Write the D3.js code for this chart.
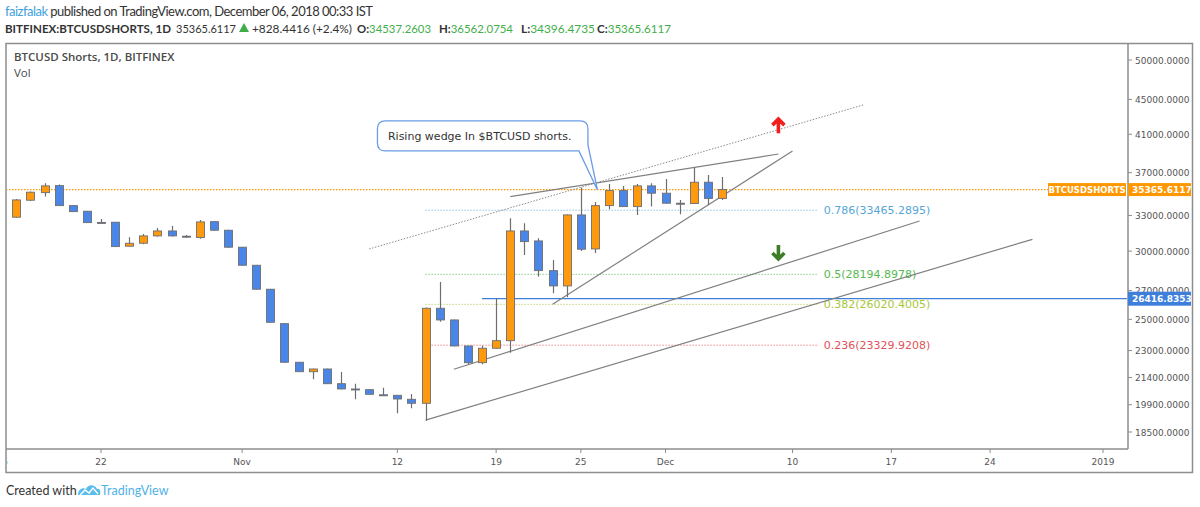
<!DOCTYPE html>
<html>
<head>
<meta charset="utf-8">
<script src="https://cdn.jsdelivr.net/npm/d3@7"></script>
<style>
body{margin:0;background:#fff;}
svg{display:block;}
</style>
</head>
<body>
<svg id="chart" width="1200" height="507"></svg>
<script>
// daily candles
const dates = ["2018-10-16","2018-10-17","2018-10-18","2018-10-19","2018-10-20","2018-10-21","2018-10-22","2018-10-23","2018-10-24","2018-10-25",
  "2018-10-26","2018-10-27","2018-10-28","2018-10-29","2018-10-30","2018-10-31","2018-11-01","2018-11-02","2018-11-03","2018-11-04",
  "2018-11-05","2018-11-06","2018-11-07","2018-11-08","2018-11-09","2018-11-10","2018-11-11","2018-11-12","2018-11-13","2018-11-14",
  "2018-11-15","2018-11-16","2018-11-17","2018-11-18","2018-11-19","2018-11-20","2018-11-21","2018-11-22","2018-11-23","2018-11-24",
  "2018-11-25","2018-11-26","2018-11-27","2018-11-28","2018-11-29","2018-11-30","2018-12-01","2018-12-02","2018-12-03","2018-12-04","2018-12-05"];
const opens = [32847,34373,35078,35744,33881,33377,32394,32410,30395,30639,31245,31663,31220,31111,32462,31723,30316,28889,27095,24714,
  22291,21736,21893,21049,20755,20715,20435,20407,20190,19975,25751,24960,23282,22266,23140,23615,31663,30830,28476,27335,
  33048,30177,33881,35268,33790,35715,35022,34099,34072,36066,34537.2603];
const highs = [34494,35190,35973,35837,33915,33404,32694,32436,31136,31411,31920,32091,31311,32606,32498,31774,30340,28913,27117,24739,
  22308,21912,21912,21718,21049,20738,20826,20424,20478,25808,27629,24980,23301,23301,26450,32756,32323,31052,29303,33095,
  35569,34219,35904,35715,35904,35973,36388,34400,37505,36781,36562.0754];
const lows = [32785,34308,34705,33854,33314,32349,32323,30340,30364,30559,31201,31201,31111,31003,31688,30282,28860,27066,24778,22266,
  21718,21299,21033,20738,20190,20440,20397,19449,19711,19067,24845,23263,22171,22171,23115,22869,29698,28021,26807,26522,
  30017,29855,33558,33763,33048,33790,34061,33111,34034,33946,34396.4735];
const closes = [34400,35117,35715,33881,33340,32375,32349,30364,30639,31245,31663,31245,31195,32436,31723,30316,28889,27095,24806,22291,
  21736,21893,21049,20755,20738,20462,20413,20206,19975,25751,24960,23282,22266,23140,23615,31663,30771,28476,27335,33048,
  30153,33881,35268,33790,35715,35022,34099,34072,36066,34537,35365.6117];

// axes
const priceTicks = [18500,19900,21400,23000,25000,27000,30000,33000,37000,41000,45000,50000];
const timeTickDates = ["2018-10-15","2018-10-22","2018-11-01","2018-11-12","2018-11-19","2018-11-25","2018-12-01","2018-12-10","2018-12-17","2018-12-24","2019-01-01"];
const timeTickLabels = ["15","22","Nov","12","19","25","Dec","10","17","24","2019"];

// fib retracement levels
const fibLevels = ["0.786","0.5","0.382","0.236"];
const fibValues = [33465.2895,28194.8978,26020.4005,23329.9208];
const fibColors = ["#58a6d9","#55b94f","#a9c63b","#e0525a"];
const fibStart = "2018-11-14", fibEnd = "2018-12-12";

const lastPrice = 35365.6117;
const priceChange = "+828.4416 (+2.4%)";
const markedPrice = 26416.8353, markedFrom = "2018-11-18";

// drawn trend lines (date, price) pairs
const trendLines = [
  ["2018-11-20",34696,"2018-12-09",38892],
  ["2018-11-23",26025,"2018-12-10",39204],
  ["2018-11-16",21876,"2018-12-19",32513],
  ["2018-11-14",19100,"2018-12-27",30963]
];
const dottedLine = ["2018-11-10",30171,"2018-12-15",44335];
const upArrow = ["2018-12-09",41900];
const downArrow = ["2018-12-09",29930];
const callout = ["2018-11-26",35330,"Rising wedge In $BTCUSD shorts."];

const parse = d3.utcParse("%Y-%m-%d");
const svg = d3.select('#chart');
svg.append('rect').attr('width',1200).attr('height',507).attr('fill','#fff');

const plotLeft = 6, plotRight = 1128, plotTop = 43.5, plotBottom = 449, outerRight = 1192.5, outerBottom = 472.5;

const x = d3.scaleUtc().domain([parse("2018-10-22"), parse("2019-01-01")]).range([101,1103]);
const y = d3.scaleLog().domain([18500,50000]).range([432,60]);

//header
const h1 = svg.append('text').attr('x',5).attr('y',16).attr('font-family','Lato').attr('font-size',13)
  .attr('fill','#333').attr('textLength',368).attr('lengthAdjust','spacing');
h1.append('tspan').attr('fill','#3f9fe0').text('faizfalak');
h1.append('tspan').text(' published on TradingView.com, December 06, 2018 00:33 IST');

const h2 = svg.append('g').attr('font-family','Lato').attr('font-size',12).attr('fill','#333');
h2.append('text').attr('x',5).attr('y',33).attr('font-weight','bold')
  .attr('textLength',166).attr('lengthAdjust','spacingAndGlyphs').text('BITFINEX:BTCUSDSHORTS, 1D');
h2.append('text').attr('x',176).attr('y',33).attr('textLength',60).attr('lengthAdjust','spacingAndGlyphs').text(lastPrice.toFixed(4));
h2.append('path').attr('d','M239,32 L244,23 L249,32 Z').attr('fill','#3fae49');
h2.append('text').attr('x',252).attr('y',33).attr('textLength',100).attr('lengthAdjust','spacingAndGlyphs').text(priceChange);
const ohlc = [['O:',opens[50],357],['H:',highs[50],439],['L:',lows[50],521],['C:',closes[50],597]];
ohlc.forEach(function(p){
  const t = h2.append('text').attr('x',p[2]).attr('y',33).attr('textLength',74).attr('lengthAdjust','spacingAndGlyphs');
  t.append('tspan').attr('font-weight','bold').text(p[0]);
  t.append('tspan').attr('fill','#3fae49').text(p[1].toFixed(4));
});

//frame
svg.append('rect').attr('x',plotLeft).attr('y',plotTop).attr('width',outerRight-plotLeft).attr('height',outerBottom-plotTop)
  .attr('fill','none').attr('stroke','#8d8d8d').attr('stroke-width',1.5);
svg.append('line').attr('x1',plotRight).attr('x2',plotRight).attr('y1',plotTop).attr('y2',plotBottom).attr('stroke','#8d8d8d').attr('stroke-width',1.5);
svg.append('line').attr('x1',plotLeft).attr('x2',plotRight).attr('y1',plotBottom).attr('y2',plotBottom).attr('stroke','#8d8d8d').attr('stroke-width',1.5);

const defs = svg.append('defs');
defs.append('clipPath').attr('id','plotclip').append('rect')
  .attr('x',plotLeft+1).attr('y',plotTop+1).attr('width',plotRight-plotLeft-2).attr('height',plotBottom-plotTop-2);
defs.append('clipPath').attr('id','timeclip').append('rect')
  .attr('x',plotLeft+1).attr('y',plotBottom).attr('width',plotRight-plotLeft).attr('height',outerBottom-plotBottom);

svg.append('text').attr('x',14).attr('y',61).attr('font-family','Open Sans').attr('font-weight',600)
  .attr('font-size',11.5).attr('fill','#4a4a4a').text('BTCUSD Shorts, 1D, BITFINEX');
svg.append('text').attr('x',14).attr('y',77).attr('font-family','Open Sans')
  .attr('font-size',11.5).attr('fill','#4a4a4a').text('Vol');

const plot = svg.append('g').attr('clip-path','url(#plotclip)');

// current price dotted line
plot.append('line').attr('x1',plotLeft).attr('x2',1048).attr('y1',y(lastPrice)).attr('y2',y(lastPrice))
  .attr('stroke','#ff9800').attr('stroke-width',1.2).attr('stroke-dasharray','1.5,1.5');

// fib levels
fibValues.forEach(function(v,i){
  plot.append('line').attr('x1',x(parse(fibStart))).attr('x2',x(parse(fibEnd)) - 2)
    .attr('y1',y(v)).attr('y2',y(v)).attr('stroke',fibColors[i]).attr('stroke-width',1).attr('stroke-dasharray','1,2');
  plot.append('text').attr('x',x(parse(fibEnd)) + 3).attr('y',y(v)+4).attr('font-family','DejaVu Sans')
    .attr('font-size',11).attr('fill',fibColors[i]).text(fibLevels[i] + '(' + v.toFixed(4) + ')');
});

// marked horizontal line
plot.append('line').attr('x1',x(parse(markedFrom))).attr('x2',plotRight).attr('y1',y(markedPrice)).attr('y2',y(markedPrice))
  .attr('stroke','#3f7fdc').attr('stroke-width',1.2);

// trend lines
trendLines.forEach(function(t){
  plot.append('line').attr('x1',x(parse(t[0]))).attr('y1',y(t[1])).attr('x2',x(parse(t[2]))).attr('y2',y(t[3]))
    .attr('stroke','#808080').attr('stroke-width',1.2);
});
plot.append('line').attr('x1',x(parse(dottedLine[0]))).attr('y1',y(dottedLine[1]))
  .attr('x2',x(parse(dottedLine[2]))).attr('y2',y(dottedLine[3]))
  .attr('stroke','#8a8a8a').attr('stroke-width',1).attr('stroke-dasharray','1.5,1.5');

// candles
const candleW = 8;
const candles = plot.append('g');
dates.forEach(function(d,i){
  const cx = Math.round(x(parse(d))) + 0.5;
  const up = closes[i] >= opens[i];
  candles.append('line').attr('x1',cx).attr('x2',cx).attr('y1',y(highs[i])).attr('y2',y(lows[i]))
    .attr('stroke','#6e6e6e').attr('stroke-width',1.2);
  const yt = y(Math.max(opens[i],closes[i])), yb = y(Math.min(opens[i],closes[i]));
  candles.append('rect').attr('x',cx - candleW/2).attr('y',yt).attr('width',candleW).attr('height',Math.max(1,yb-yt))
    .attr('fill', up ? '#ff9a0e' : '#4a86e8').attr('stroke','#6e6e6e').attr('stroke-width',0.9);
});

// arrows
function arrow(ax, ay, dir, color){
  const s = dir; // -1 up, 1 down
  plot.append('path')
    .attr('d','M'+ax+','+(ay - s*7)+' L'+ax+','+(ay + s*7)+' M'+(ax-6)+','+(ay + s*1)+' L'+ax+','+(ay + s*7)+' L'+(ax+6)+','+(ay + s*1))
    .attr('fill','none').attr('stroke',color).attr('stroke-width',3.6).attr('stroke-linejoin','miter');
}
arrow(x(parse(upArrow[0])), y(upArrow[1]), -1, '#f21d1d');
arrow(x(parse(downArrow[0])), y(downArrow[1]), 1, '#3e7d27');

// callout
const tx = x(parse(callout[0])) + 2.5, ty = y(callout[1]);
const bl = tx - 220, br = tx - 9.5, bt = ty - 69, bb = ty - 39, r = 8;
const cp = 'M'+(bl+r)+','+bt+' H'+(br-r)+' Q'+br+','+bt+' '+br+','+(bt+r)+' V'+(bb-6)
  +' L'+tx+','+ty+' L'+(br-9)+','+bb+' H'+(bl+r)+' Q'+bl+','+bb+' '+bl+','+(bb-r)+' V'+(bt+r)+' Q'+bl+','+bt+' '+(bl+r)+','+bt+' Z';
svg.append('path').attr('d',cp).attr('fill','#fff').attr('stroke','#6b9be6').attr('stroke-width',1.3);
svg.append('text').attr('x',bl+10.5).attr('y',bt+19.5).attr('font-family','DejaVu Sans').attr('font-size',11)
  .attr('fill','#333').text(callout[2]);

// price axis
priceTicks.forEach(function(v){
  svg.append('line').attr('x1',plotRight).attr('x2',plotRight+4).attr('y1',y(v)).attr('y2',y(v)).attr('stroke','#8d8d8d');
  svg.append('text').attr('x',plotRight+7).attr('y',y(v)+3.5).attr('font-family','DejaVu Sans').attr('font-size',9)
    .attr('fill','#555').text(v.toFixed(4));
});

// time axis
const tg = svg.append('g').attr('clip-path','url(#timeclip)');
timeTickDates.forEach(function(d,i){
  const tx2 = x(parse(d));
  tg.append('line').attr('x1',tx2).attr('x2',tx2).attr('y1',plotBottom).attr('y2',plotBottom+4).attr('stroke','#8d8d8d');
  tg.append('text').attr('x',tx2).attr('y',plotBottom+16).attr('text-anchor','middle').attr('font-family','DejaVu Sans')
    .attr('font-size',9).attr('fill','#555').text(timeTickLabels[i]);
});

// right side price labels
const ly = y(lastPrice);
svg.append('rect').attr('x',1048).attr('y',ly-6.5).attr('width',78).attr('height',13).attr('fill','#ff9800');
svg.append('text').attr('x',1087).attr('y',ly+3.5).attr('text-anchor','middle').attr('font-family','DejaVu Sans')
  .attr('font-size',8.5).attr('font-weight','bold').attr('fill','#fff').text('BTCUSDSHORTS');
svg.append('rect').attr('x',plotRight).attr('y',ly-6.5).attr('width',63).attr('height',13).attr('fill','#ff9800');
svg.append('text').attr('x',plotRight+4).attr('y',ly+3.5).attr('font-family','DejaVu Sans')
  .attr('font-size',9).attr('font-weight','bold').attr('fill','#fff').text(lastPrice.toFixed(4));

const my = y(markedPrice);
svg.append('rect').attr('x',plotRight).attr('y',my-7).attr('width',63).attr('height',14).attr('fill','#3f7fdc');
svg.append('text').attr('x',plotRight+4).attr('y',my+3.5).attr('font-family','DejaVu Sans')
  .attr('font-size',9).attr('font-weight','bold').attr('fill','#fff').text(markedPrice.toFixed(4));

// footer
svg.append('text').attr('x',6).attr('y',495).attr('font-family','Lato').attr('font-size',12.5).attr('fill','#333').text('Created with');
const logo = svg.append('g').attr('transform','translate(78,484)');
logo.append('path').attr('d','M0,11 C0,5 5,3 8,5 C10,0 17,0 19,5 C22,4 23,8 22,11 Z').attr('fill','#5bbde9');
logo.append('path').attr('d','M2,11 L7,6 L11,9 L15,4 L20,10').attr('fill','none').attr('stroke','#fff').attr('stroke-width',1.4);
svg.append('text').attr('x',101).attr('y',495).attr('font-family','Lato').attr('font-size',12.5).attr('fill','#4fb1e6').text('TradingView');
</script>
</body>
</html>
